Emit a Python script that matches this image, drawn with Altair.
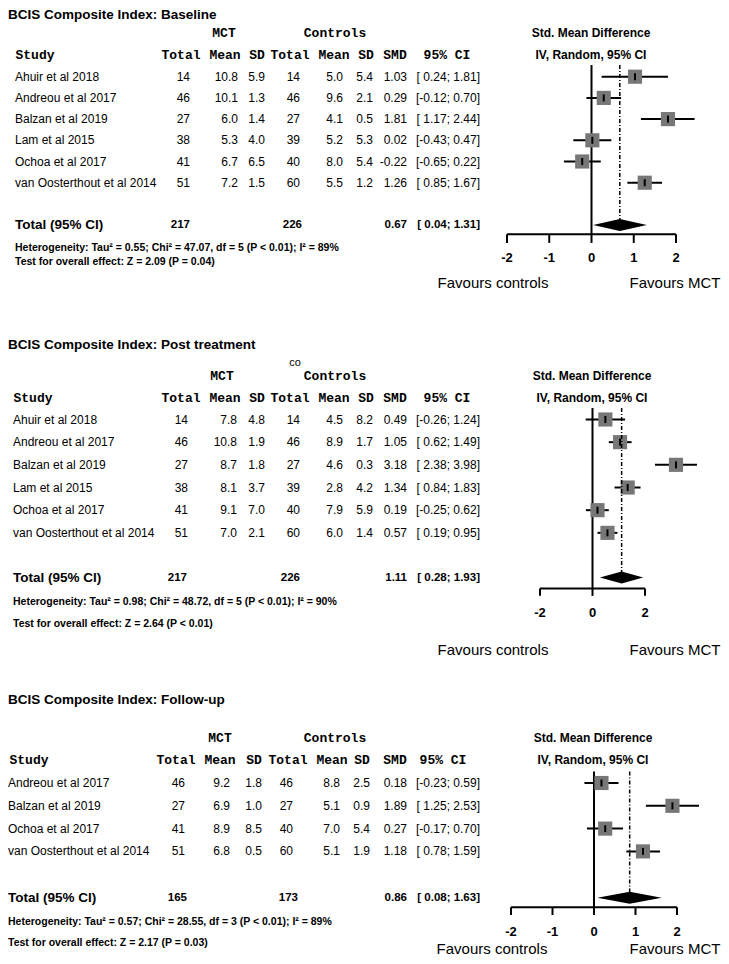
import altair as alt
import pandas as pd

W, H = 713, 948
SANS = "Liberation Sans"
MONO = "Liberation Mono"

# ---------------- shared labels ----------------
GROUPS = ["MCT", "Controls"]
COLUMNS = ["Study", "Total", "Mean", "SD", "Total", "Mean", "SD", "SMD", "95% CI"]
FOREST_HEAD = ["Std. Mean Difference", "IV, Random, 95% CI"]
FAVOURS = ["Favours controls", "Favours MCT"]
TOTAL_LABEL = "Total (95% CI)"

# ---------------- Panel 1: Baseline ----------------
P1_TITLE = "BCIS Composite Index: Baseline"
P1_STUDY = ["Ahuir et al 2018", "Andreou et al 2017", "Balzan et al 2019",
            "Lam et al 2015", "Ochoa et al 2017", "van Oosterthout et al 2014"]
P1_MCT_N = [14, 46, 27, 38, 41, 51]
P1_MCT_MEAN = [10.8, 10.1, 6.0, 5.3, 6.7, 7.2]
P1_MCT_SD = [5.9, 1.3, 1.4, 4.0, 6.5, 1.5]
P1_CTL_N = [14, 46, 27, 39, 40, 60]
P1_CTL_MEAN = [5.0, 9.6, 4.1, 5.2, 8.0, 5.5]
P1_CTL_SD = [5.4, 2.1, 0.5, 5.3, 5.4, 1.2]
P1_SMD = [1.03, 0.29, 1.81, 0.02, -0.22, 1.26]
P1_LO = [0.24, -0.12, 1.17, -0.43, -0.65, 0.85]
P1_HI = [1.81, 0.70, 2.44, 0.47, 0.22, 1.67]
P1_TOTAL_N = [217, 226]
P1_TOTAL = [0.67, 0.04, 1.31]
P1_HET = "Heterogeneity: Tau² = 0.55; Chi² = 47.07, df = 5 (P < 0.01); I² = 89%"
P1_TEST = "Test for overall effect: Z = 2.09 (P = 0.04)"
P1_TICKS = [-2, -1, 0, 1, 2]

# ---------------- Panel 2: Post treatment ----------------
P2_TITLE = "BCIS Composite Index: Post treatment"
P2_STUDY = ["Ahuir et al 2018", "Andreou et al 2017", "Balzan et al 2019",
            "Lam et al 2015", "Ochoa et al 2017", "van Oosterthout et al 2014"]
P2_MCT_N = [14, 46, 27, 38, 41, 51]
P2_MCT_MEAN = [7.8, 10.8, 8.7, 8.1, 9.1, 7.0]
P2_MCT_SD = [4.8, 1.9, 1.8, 3.7, 7.0, 2.1]
P2_CTL_N = [14, 46, 27, 39, 40, 60]
P2_CTL_MEAN = [4.5, 8.9, 4.6, 2.8, 7.9, 6.0]
P2_CTL_SD = [8.2, 1.7, 0.3, 4.2, 5.9, 1.4]
P2_SMD = [0.49, 1.05, 3.18, 1.34, 0.19, 0.57]
P2_LO = [-0.26, 0.62, 2.38, 0.84, -0.25, 0.19]
P2_HI = [1.24, 1.49, 3.98, 1.83, 0.62, 0.95]
P2_TOTAL_N = [217, 226]
P2_TOTAL = [1.11, 0.28, 1.93]
P2_HET = "Heterogeneity: Tau² = 0.98; Chi² = 48.72, df = 5 (P < 0.01); I² = 90%"
P2_TEST = "Test for overall effect: Z = 2.64 (P < 0.01)"
P2_TICKS = [-2, 0, 2]
P2_EXTRA = "co"

# ---------------- Panel 3: Follow-up ----------------
P3_TITLE = "BCIS Composite Index: Follow-up"
P3_STUDY = ["Andreou et al 2017", "Balzan et al 2019", "Ochoa et al 2017",
            "van Oosterthout et al 2014"]
P3_MCT_N = [46, 27, 41, 51]
P3_MCT_MEAN = [9.2, 6.9, 8.9, 6.8]
P3_MCT_SD = [1.8, 1.0, 8.5, 0.5]
P3_CTL_N = [46, 27, 40, 60]
P3_CTL_MEAN = [8.8, 5.1, 7.0, 5.1]
P3_CTL_SD = [2.5, 0.9, 5.4, 1.9]
P3_SMD = [0.18, 1.89, 0.27, 1.18]
P3_LO = [-0.23, 1.25, -0.17, 0.78]
P3_HI = [0.59, 2.53, 0.70, 1.59]
P3_TOTAL_N = [165, 173]
P3_TOTAL = [0.86, 0.08, 1.63]
P3_HET = "Heterogeneity: Tau² = 0.57; Chi² = 28.55, df = 3 (P < 0.01); I² = 89%"
P3_TEST = "Test for overall effect: Z = 2.17 (P = 0.03)"
P3_TICKS = [-2, -1, 0, 1, 2]

PANELS = [
    dict(title=P1_TITLE, study=P1_STUDY, n1=P1_MCT_N, m1=P1_MCT_MEAN, s1=P1_MCT_SD,
         n2=P1_CTL_N, m2=P1_CTL_MEAN, s2=P1_CTL_SD, smd=P1_SMD, lo=P1_LO, hi=P1_HI,
         tn=P1_TOTAL_N, tot=P1_TOTAL, het=P1_HET, test=P1_TEST, ticks=P1_TICKS),
    dict(title=P2_TITLE, study=P2_STUDY, n1=P2_MCT_N, m1=P2_MCT_MEAN, s1=P2_MCT_SD,
         n2=P2_CTL_N, m2=P2_CTL_MEAN, s2=P2_CTL_SD, smd=P2_SMD, lo=P2_LO, hi=P2_HI,
         tn=P2_TOTAL_N, tot=P2_TOTAL, het=P2_HET, test=P2_TEST, ticks=P2_TICKS,
         extra=P2_EXTRA),
    dict(title=P3_TITLE, study=P3_STUDY, n1=P3_MCT_N, m1=P3_MCT_MEAN, s1=P3_MCT_SD,
         n2=P3_CTL_N, m2=P3_CTL_MEAN, s2=P3_CTL_SD, smd=P3_SMD, lo=P3_LO, hi=P3_HI,
         tn=P3_TOTAL_N, tot=P3_TOTAL, het=P3_HET, test=P3_TEST, ticks=P3_TICKS),
]

# ---------------- layout (pixel anchors of rows / columns) ----------------
LAYOUT = [
    dict(row0=68.7, step=21.2, frange=[499, 668],
         title=-2.91, group=-2.06, header=-1.02, ftop=-0.55, total=7.0, axis=7.43,
         tickend=7.84, ticklab=8.55, het=8.08, test=8.74, fav=9.74,
         title_x=0, name_x=7, num_x=[182, 230, 257, 292, 335, 365, 399, 472],
         hdr_x=[27, 173, 217, 249, 282, 326, 358, 387, 439], grp_x=[216, 327],
         tot_x=[182, 294], fhead_x=583, fav_x=[485, 667]),
    dict(row0=411.5, step=22.67, frange=[532, 637],
         title=-3.29, group=-1.90, header=-0.95, ftop=-0.51, total=6.97, axis=7.45,
         tickend=7.78, ticklab=8.54, het=8.04, test=9.0, fav=10.17,
         title_x=0, name_x=5, num_x=[180, 229, 257, 292, 335, 365, 399, 472],
         hdr_x=[25, 173, 217, 249, 282, 326, 358, 387, 439], grp_x=[214, 327],
         tot_x=[179, 292], fhead_x=584, fav_x=[485, 667], extra_x=287, extra_y=-2.49),
    dict(row0=775, step=22.8, frange=[503, 669],
         title=-3.64, group=-1.96, header=-0.99, ftop=-0.50, total=5.03, axis=5.45,
         tickend=5.79, ticklab=6.52, het=6.08, test=7.03, fav=7.28,
         title_x=0, name_x=0, num_x=[177, 222, 254, 285, 332, 362, 399, 472],
         hdr_x=[21, 168, 212, 246, 280, 324, 354, 387, 435], grp_x=[212, 327],
         tot_x=[179, 290], fhead_x=585, fav_x=[484, 667]),
]


def fmt_ci(lo, hi):
    return f"[{lo:5.2f}; {hi:4.2f}]"


def build_panel(d, L):
    n = len(d["study"])
    ys = alt.Scale(domain=[0, n - 1], range=[L["row0"], L["row0"] + (n - 1) * L["step"]],
                   nice=False, zero=False)
    xt = alt.Scale(domain=[0, W], range=[0, W], nice=False, zero=False)
    xf = alt.Scale(domain=[-2, 2], range=L["frange"], nice=False, zero=False)
    layers = []

    def tdf(xs, yv, ts):
        return pd.DataFrame({"x": xs, "y": yv, "t": ts})

    def text(df, **kw):
        props = dict(font=SANS, fontSize=12, color="black", baseline="middle", align="left")
        props.update(kw)
        return alt.Chart(df).mark_text(**props).encode(
            x=alt.X("x:Q", scale=xt, axis=None),
            y=alt.Y("y:Q", scale=ys, axis=None),
            text=alt.Text("t:N"))

    # ---- table text ----
    layers.append(text(tdf([L["title_x"]], [L["title"]], [d["title"]]),
                       fontSize=13.5, fontWeight="bold"))
    layers.append(text(tdf(L["grp_x"], [L["group"]] * 2, GROUPS),
                       font=MONO, fontSize=13, fontWeight="bold", align="center"))
    layers.append(text(tdf(L["hdr_x"], [L["header"]] * len(COLUMNS), COLUMNS),
                       font=MONO, fontSize=13, fontWeight="bold", align="center"))
    if "extra" in d:
        layers.append(text(tdf([L["extra_x"]], [L["extra_y"]], [d["extra"]]),
                           fontSize=11, align="center"))
    layers.append(text(tdf([L["name_x"]] * n, list(range(n)), d["study"])))

    cols = [
        [str(v) for v in d["n1"]],
        [f"{v:.1f}" for v in d["m1"]],
        [f"{v:.1f}" for v in d["s1"]],
        [str(v) for v in d["n2"]],
        [f"{v:.1f}" for v in d["m2"]],
        [f"{v:.1f}" for v in d["s2"]],
        [f"{v:.2f}" for v in d["smd"]],
        [fmt_ci(a, b) for a, b in zip(d["lo"], d["hi"])],
    ]
    xs, yv, ts = [], [], []
    for ci, col in enumerate(cols):
        for ri, val in enumerate(col):
            xs.append(L["num_x"][ci])
            yv.append(ri)
            ts.append(val)
    layers.append(text(tdf(xs, yv, ts), align="right"))

    layers.append(text(tdf([L["name_x"]], [L["total"]], [TOTAL_LABEL]),
                       fontSize=13.5, fontWeight="bold"))
    est, tlo, thi = d["tot"]
    layers.append(text(tdf([L["tot_x"][0], L["tot_x"][1], L["num_x"][6], L["num_x"][7]],
                           [L["total"]] * 4,
                           [str(d["tn"][0]), str(d["tn"][1]), f"{est:.2f}", fmt_ci(tlo, thi)]),
                       fontSize=11.5, fontWeight="bold", align="right"))
    layers.append(text(tdf([L["name_x"]] * 2, [L["het"], L["test"]], [d["het"], d["test"]]),
                       fontSize=10.5, fontWeight="bold"))
    layers.append(text(tdf([L["fhead_x"]] * 2, [L["group"], L["header"]], FOREST_HEAD),
                       fontSize=12, fontWeight="bold", align="center"))
    layers.append(text(tdf(L["fav_x"], [L["fav"]] * 2, FAVOURS),
                       fontSize=15, align="center"))

    # ---- forest ----
    def fx(field):
        return alt.X(f"{field}:Q", scale=xf, axis=None)

    def fy(field):
        return alt.Y(f"{field}:Q", scale=ys, axis=None)

    zero_df = pd.DataFrame({"x": [0], "y": [L["ftop"]], "y2": [L["axis"]]})
    layers.append(alt.Chart(zero_df).mark_rule(color="black", strokeWidth=2).encode(
        x=fx("x"), y=fy("y"), y2="y2"))

    fdf = pd.DataFrame({"smd": d["smd"], "lo": d["lo"], "hi": d["hi"], "r": list(range(n))})
    layers.append(alt.Chart(fdf).mark_rule(color="black", strokeWidth=2).encode(
        x=fx("lo"), x2="hi", y=fy("r")))
    layers.append(alt.Chart(fdf).mark_square(size=200, color="#777777", opacity=1).encode(
        x=fx("smd"), y=fy("r")))
    layers.append(alt.Chart(fdf).mark_tick(orient="vertical", size=7, thickness=2,
                                           color="black", opacity=1).encode(
        x=fx("smd"), y=fy("r")))

    dd_df = pd.DataFrame({"x": [est], "y": [L["ftop"]], "y2": [L["total"]]})
    layers.append(alt.Chart(dd_df).mark_rule(color="black", strokeWidth=1.5,
                                             strokeDash=[4, 2, 1, 2]).encode(
        x=fx("x"), y=fy("y"), y2="y2"))

    h = 6.0 / L["step"]
    tr = L["total"]
    dia = pd.DataFrame({"x": [tlo, est, thi], "y": [tr, tr - h, tr], "y2": [tr, tr + h, tr]})
    layers.append(alt.Chart(dia).mark_area(color="black", orient="vertical", opacity=1).encode(
        x=fx("x"), y=fy("y"), y2="y2"))

    ax_df = pd.DataFrame({"x": [d["ticks"][0]], "x2": [d["ticks"][-1]], "y": [L["axis"]]})
    layers.append(alt.Chart(ax_df).mark_rule(color="black", strokeWidth=2).encode(
        x=fx("x"), x2="x2", y=fy("y")))
    tk_df = pd.DataFrame({"x": d["ticks"], "y": [L["axis"]] * len(d["ticks"]),
                          "y2": [L["tickend"]] * len(d["ticks"]),
                          "yl": [L["ticklab"]] * len(d["ticks"]),
                          "t": [str(t) for t in d["ticks"]]})
    layers.append(alt.Chart(tk_df).mark_rule(color="black", strokeWidth=2).encode(
        x=fx("x"), y=fy("y"), y2="y2"))
    layers.append(alt.Chart(tk_df).mark_text(font=SANS, fontSize=13, fontWeight="bold",
                                             color="black", baseline="middle",
                                             align="center").encode(
        x=fx("x"), y=fy("yl"), text="t:N"))
    return layers


all_layers = []
for d, L in zip(PANELS, LAYOUT):
    all_layers.extend(build_panel(d, L))

chart = alt.layer(*all_layers).resolve_scale(
    x="independent", y="independent"
).properties(
    width=W, height=H, padding=0,
    autosize=alt.AutoSizeParams(type="none"),
    background="white",
).configure_view(stroke=None)

chart.save("out.html", embed_options={"renderer": "svg", "actions": False})
